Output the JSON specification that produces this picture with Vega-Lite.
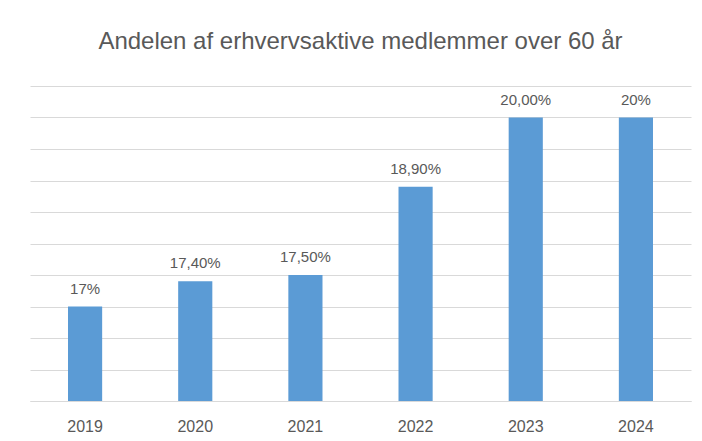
{
  "$schema": "https://vega.github.io/schema/vega-lite/v6.json",
  "width": 661,
  "height": 315,
  "autosize": "none",
  "padding": {"left": 30, "top": 86, "right": 11, "bottom": 40},
  "background": "white",
  "title": {
    "text": "Andelen af erhvervsaktive medlemmer over 60 år",
    "font": "Liberation Sans",
    "fontSize": 24,
    "fontWeight": "normal",
    "color": "#595959",
    "anchor": "middle",
    "frame": "group",
    "baseline": "alphabetic",
    "offset": 13
  },
  "data": {
    "values": [
      {"year": "2019", "value": 17.0, "label": "17%"},
      {"year": "2020", "value": 17.4, "label": "17,40%"},
      {"year": "2021", "value": 17.5, "label": "17,50%"},
      {"year": "2022", "value": 18.9, "label": "18,90%"},
      {"year": "2023", "value": 20.0, "label": "20,00%"},
      {"year": "2024", "value": 20.0, "label": "20%"}
    ]
  },
  "config": {
    "view": {"stroke": null},
    "font": "Liberation Sans"
  },
  "encoding": {
    "x": {
      "field": "year",
      "type": "nominal",
      "sort": null,
      "scale": {"paddingInner": 0.69, "paddingOuter": 0.345},
      "axis": {
        "title": null,
        "labelAngle": 0,
        "ticks": false,
        "tickSize": 0,
        "domain": true,
        "domainColor": "#d9d9d9",
        "domainWidth": 1,
        "labelFont": "Liberation Sans",
        "labelFontSize": 16,
        "labelColor": "#595959",
        "labelBaseline": "alphabetic",
        "labelPadding": 30
      }
    },
    "y": {
      "field": "value",
      "type": "quantitative",
      "scale": {"domain": [15.5, 20.5], "nice": false, "zero": false},
      "axis": {
        "title": null,
        "labels": false,
        "ticks": false,
        "domain": false,
        "grid": true,
        "gridColor": "#d9d9d9",
        "gridWidth": 1,
        "values": [15.5, 16, 16.5, 17, 17.5, 18, 18.5, 19, 19.5, 20, 20.5]
      }
    }
  },
  "layer": [
    {"mark": {"type": "bar", "color": "#5b9bd5", "clip": true}},
    {
      "mark": {
        "type": "text",
        "baseline": "alphabetic",
        "dy": -13,
        "fontSize": 15,
        "color": "#595959",
        "font": "Liberation Sans"
      },
      "encoding": {"text": {"field": "label"}}
    }
  ]
}
